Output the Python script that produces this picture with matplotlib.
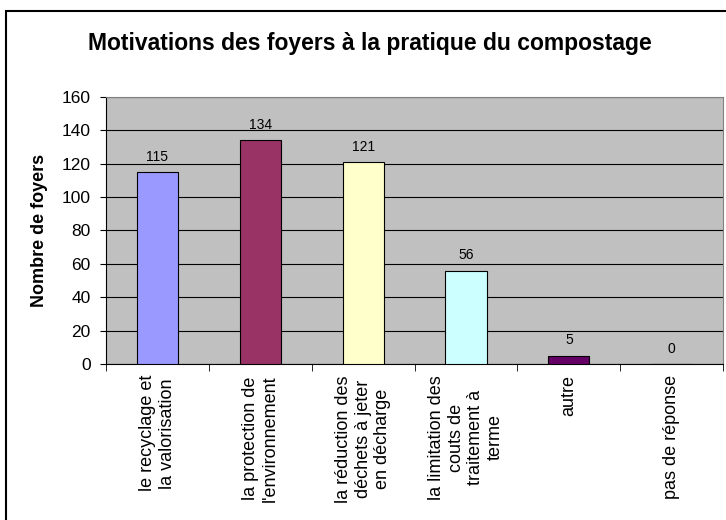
import numpy as np
import matplotlib.pyplot as plt
from matplotlib.patches import Rectangle

plt.rcParams['font.family'] = ['Liberation Sans', 'DejaVu Sans']

# data
categories = ["le recyclage et\nla valorisation",
              "la protection de\nl'environnement",
              "la réduction des\ndéchets à jeter\nen décharge",
              "la limitation des\ncouts de\ntraitement à\nterme",
              "autre",
              "pas de réponse"]
foyers = [115, 134, 121, 56, 5, 0]
colors = ['#9999FF', '#993366', '#FFFFCC', '#CCFFFF', '#660066', '#FFFFFF']

fig = plt.figure(figsize=(7.26, 5.2), dpi=100)
ax = fig.add_axes([0.146, 0.30, 0.850, 0.5135])

x = np.arange(len(categories))
ax.set_axisbelow(True)
ax.bar(x, foyers, width=0.4, color=colors, edgecolor='black', linewidth=0.8, zorder=3)

# value labels
for xi, v in zip(x, foyers):
    ax.annotate(str(v), (xi, v), xytext=(0, 6), textcoords='offset points',
                ha='center', va='bottom', fontsize=10)

ax.set_facecolor('#C0C0C0')
ax.set_xlim(-0.5, len(categories) - 0.5)
ax.set_ylim(0, 160)
ax.set_yticks(np.arange(0, 161, 20))
ax.yaxis.grid(True, color='black', linewidth=0.8)
ax.tick_params(axis='y', labelsize=12.5, direction='out', length=4, pad=7)

# category labels between boundary ticks
ax.set_xticks(x)
ax.set_xticklabels(categories, rotation=90, ha='center', va='top',
                   multialignment='center', fontsize=13)
ax.tick_params(axis='x', which='major', length=0, pad=8)
ax.set_xticks(np.arange(-0.5, len(categories)), minor=True)
ax.tick_params(axis='x', which='minor', length=5, direction='out')

for side in ['top', 'right']:
    ax.spines[side].set_color('#808080')
ax.spines['left'].set_color('black')
ax.spines['bottom'].set_color('black')

ax.set_ylabel('Nombre de foyers', fontsize=13, fontweight='bold', labelpad=10)
fig.text(0.51, 0.917, 'Motivations des foyers à la pratique du compostage',
         ha='center', va='center', fontsize=16.5, fontweight='bold')

# outer chart border (cropped at right and bottom)
fig.patches.append(Rectangle((6 / 726, -0.05), 1.1, 1.05 - 11 / 520,
                             transform=fig.transFigure, fill=False,
                             edgecolor='black', linewidth=1.5))

fig.savefig('out.png', dpi=100)
